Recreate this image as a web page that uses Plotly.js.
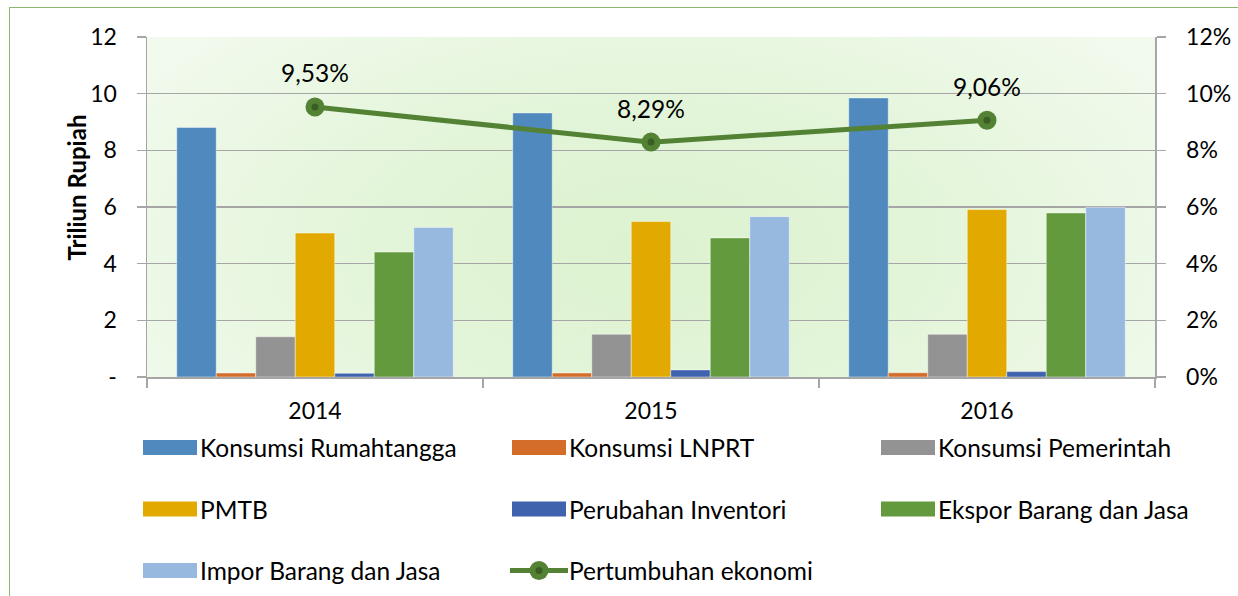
<!DOCTYPE html>
<html>
<head>
<meta charset="utf-8">
<script src="https://cdn.plot.ly/plotly-3.0.1.min.js"></script>
<style>
  html, body { margin: 0; padding: 0; background: #ffffff; }
  #wrap { position: relative; width: 1238px; height: 596px; overflow: hidden; background: #ffffff; }
  #frame { position: absolute; left: 9px; top: 7px; width: 1260px; height: 620px; border: 1.5px solid #8db76c; box-sizing: border-box; }
  #bg { position: absolute; left: 147px; top: 37px; width: 1008px; height: 340px;
        background: radial-gradient(ellipse 62% 95% at 50% 62%, #dcf2cf 0%, #e3f5d9 45%, #f2faee 100%); }
  #chart { position: absolute; left: 0; top: 0; width: 1238px; height: 596px; }
</style>
</head>
<body>
<div id="wrap">
  <div id="frame"></div>
  <div id="bg"></div>
  <div id="chart"></div>
</div>
<script>
// ---- data ----
const years = ['2014', '2015', '2016'];
const seriesNames = ['Konsumsi Rumahtangga', 'Konsumsi LNPRT', 'Konsumsi Pemerintah', 'PMTB',
                     'Perubahan Inventori', 'Ekspor Barang dan Jasa', 'Impor Barang dan Jasa'];
const konsumsiRumahtangga = [8.81, 9.32, 9.85];
const konsumsiLNPRT       = [0.14, 0.14, 0.15];
const konsumsiPemerintah  = [1.42, 1.51, 1.51];
const pmtb                = [5.08, 5.49, 5.91];
const perubahanInventori  = [0.13, 0.25, 0.19];
const eksporBarangJasa    = [4.41, 4.91, 5.79];
const imporBarangJasa     = [5.28, 5.66, 5.99];
const growthName = 'Pertumbuhan ekonomi';
const pertumbuhanEkonomi  = [9.53, 8.29, 9.06];
const leftTickVals   = [0, 2, 4, 6, 8, 10, 12];
const leftTickText   = ['-', '2', '4', '6', '8', '10', '12'];
const rightTickText  = ['0%', '2%', '4%', '6%', '8%', '10%', '12%'];
const yTitle = 'Triliun Rupiah';

// ---- styles ----
const barValues = [konsumsiRumahtangga, konsumsiLNPRT, konsumsiPemerintah, pmtb,
                   perubahanInventori, eksporBarangJasa, imporBarangJasa];
const barColors = ['#4f89bd', '#d46c2a', '#939393', '#e2aa00', '#3f63ad', '#639a3e', '#97b9e0'];
const lineColor = '#548235';
const dotColor = '#3a5d24';
const FONT = 'Lato, "Open Sans", sans-serif';

const L = 147, R = 83, T = 37, B = 219, W = 1238 - L - R, H = 596 - T - B;
const px = x => (x - L) / W;
const py = y => (596 - B - y) / H;

const traces = [];
barValues.forEach((vals, i) => {
  traces.push({
    type: 'bar', name: seriesNames[i], x: years, y: vals,
    marker: { color: barColors[i], line: { color: 'rgba(255,255,255,0.45)', width: 1 } },
    showlegend: false, hoverinfo: 'y+name'
  });
});
traces.push({
  type: 'scatter', mode: 'lines+markers', name: growthName, x: years, y: pertumbuhanEkonomi,
  yaxis: 'y2', line: { color: lineColor, width: 5 },
  marker: { color: lineColor, size: 19 }, showlegend: false
});
traces.push({
  type: 'scatter', mode: 'markers', name: growthName, x: years, y: pertumbuhanEkonomi,
  yaxis: 'y2', marker: { color: dotColor, size: 7 }, showlegend: false, hoverinfo: 'skip'
});

const annotations = pertumbuhanEkonomi.map((v, i) => ({
  x: i, y: v, xref: 'x', yref: 'y2', yshift: 34, showarrow: false,
  text: v.toFixed(2).replace('.', ',') + '%', font: { family: FONT, size: 24.5, color: '#000' }
}));
annotations.push({
  x: px(59), y: py(188), xref: 'paper', yref: 'paper', showarrow: false, textangle: -90,
  text: '<b>' + yTitle + '</b>', font: { family: FONT, size: 24, color: '#000' }
});

// custom legend (3 columns x 3 rows)
const shapes = [];
const colX = [143, 512, 881];
const rowY = [447.5, 509, 570.5];
const legendItems = seriesNames.map((n, i) => ({ name: n, color: barColors[i], kind: 'bar' }));
legendItems.push({ name: growthName, color: lineColor, kind: 'line' });
legendItems.forEach((it, i) => {
  const cx = colX[i % 3], cy = rowY[Math.floor(i / 3)];
  if (it.kind === 'bar') {
    shapes.push({ type: 'rect', xref: 'paper', yref: 'paper', x0: px(cx), x1: px(cx + 54),
      y0: py(cy + 7.5), y1: py(cy - 7.5), fillcolor: it.color, line: { width: 0 } });
  } else {
    shapes.push({ type: 'line', xref: 'paper', yref: 'paper', x0: px(cx - 2), x1: px(cx + 56),
      y0: py(cy), y1: py(cy), line: { color: it.color, width: 5 } });
    shapes.push({ type: 'circle', xref: 'paper', yref: 'paper', x0: px(cx + 27 - 9.5), x1: px(cx + 27 + 9.5),
      y0: py(cy + 9.5), y1: py(cy - 9.5), fillcolor: it.color, line: { width: 0 } });
    shapes.push({ type: 'circle', xref: 'paper', yref: 'paper', x0: px(cx + 27 - 3.5), x1: px(cx + 27 + 3.5),
      y0: py(cy + 3.5), y1: py(cy - 3.5), fillcolor: dotColor, line: { width: 0 } });
  }
  annotations.push({ x: px(cx + 55), y: py(cy), xref: 'paper', yref: 'paper', xanchor: 'left',
    yanchor: 'middle', showarrow: false, text: it.name, font: { family: FONT, size: 24.5, color: '#000' } });
});

const layout = {
  width: 1238, height: 596,
  margin: { l: L, r: R, t: T, b: B, pad: 0 },
  paper_bgcolor: 'rgba(0,0,0,0)', plot_bgcolor: 'rgba(0,0,0,0)',
  font: { family: FONT, size: 23, color: '#000' },
  barmode: 'group', bargap: 0.177, bargroupgap: 0,
  showlegend: false,
  xaxis: {
    type: 'category', range: [-0.5, 2.5], showgrid: false, zeroline: false,
    showline: true, linecolor: '#a6a6a6', linewidth: 1.5,
    ticks: 'outside', tickson: 'boundaries', ticklen: 9, tickcolor: '#a6a6a6', tickwidth: 1.5,
    ticklabelstandoff: 13, tickfont: { family: FONT, size: 23, color: '#000' }
  },
  yaxis: {
    range: [0, 12], tickvals: leftTickVals, ticktext: leftTickText,
    showgrid: true, gridcolor: '#a6a6a6', gridwidth: 1.5, zeroline: false,
    showline: true, linecolor: '#a6a6a6', linewidth: 1.5,
    ticks: 'outside', ticklen: 9, tickcolor: '#a6a6a6', tickwidth: 1.5,
    ticklabelstandoff: 15, tickfont: { family: FONT, size: 23, color: '#000' }
  },
  yaxis2: {
    overlaying: 'y', side: 'right', range: [0, 12], tickvals: leftTickVals, ticktext: rightTickText,
    showgrid: false, zeroline: false, showline: true, linecolor: '#a6a6a6', linewidth: 1.5,
    ticks: 'outside', ticklen: 9, tickcolor: '#a6a6a6', tickwidth: 1.5,
    ticklabelstandoff: 16, tickfont: { family: FONT, size: 23, color: '#000' }
  },
  annotations: annotations,
  shapes: shapes
};

Plotly.newPlot('chart', traces, layout, { displayModeBar: false, staticPlot: true });
</script>
</body>
</html>
